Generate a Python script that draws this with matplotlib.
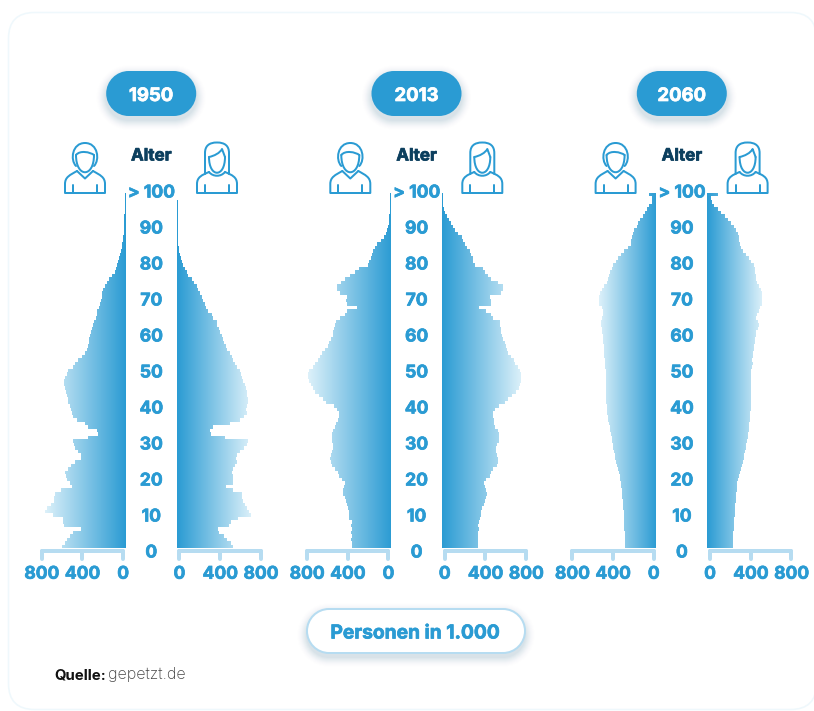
import numpy as np
import matplotlib
matplotlib.use("Agg")
import matplotlib.pyplot as plt
from matplotlib.colors import LinearSegmentedColormap
from matplotlib.markers import MarkerStyle, TICKDOWN
from matplotlib.patches import FancyBboxPatch, PathPatch
from matplotlib.path import Path
from matplotlib.patheffects import withStroke
from matplotlib.transforms import BboxTransformTo

# ---------- data: persons in 1,000 per single age 0..100, measured from the bar baseline ----------
ages = np.arange(101)
years = ["1950", "2013", "2060"]

men_1950 = [629,596,580,547,515,439,606,613,620,711,793,771,738,702,702,695,639,531,547,580,
            590,596,564,538,498,442,442,466,498,508,515,367,269,285,367,400,482,515,531,538,
            547,564,571,580,587,596,603,603,596,580,564,515,498,466,433,400,384,367,360,357,
            351,344,334,324,311,295,285,279,265,252,242,236,229,220,203,180,160,131,105,95,
            88,78,65,56,46,39,33,26,22,19,17,15,14,13,12,11,10,9,8,7,6]
women_1950 = [555,529,496,463,415,408,516,529,604,728,712,692,669,653,646,637,555,480,549,549,
              549,545,555,571,588,581,588,620,660,686,702,473,336,326,359,522,620,660,686,679,
              692,702,702,695,686,676,669,653,637,627,620,594,571,555,539,522,496,483,464,451,
              441,424,411,398,392,359,349,310,287,278,261,245,229,212,196,170,147,114,98,82,
              65,56,42,33,23,20,17,16,15,14,13,12,12,11,11,10,10,9,8,7,6]
men_2013 = [387,387,394,387,394,387,390,387,410,410,413,420,436,443,453,469,476,459,453,485,
            508,518,551,584,594,600,594,584,574,574,577,577,577,574,551,544,525,512,512,535,
            558,640,666,705,748,771,790,804,813,817,804,771,748,715,699,676,649,623,607,590,
            574,567,558,551,541,502,453,436,338,436,443,436,502,528,535,495,453,403,354,312,
            223,213,197,184,174,157,141,102,69,52,43,33,23,20,16,13,12,11,10,9,8]
women_2013 = [356,356,353,356,353,359,353,362,375,385,385,392,408,418,434,444,434,418,415,434,
              467,483,500,539,555,549,539,532,532,539,558,558,558,555,516,509,506,500,500,522,
              558,614,646,689,728,754,767,777,777,780,770,744,721,712,679,653,637,624,614,597,
              588,581,575,571,565,500,477,434,359,483,483,467,581,604,597,549,483,451,418,402,
              320,304,304,287,271,248,222,206,196,157,124,108,85,69,49,26,16,12,10,9,8]
men_2060 = [308,308,310,311,312,313,314,316,318,319,321,324,328,331,335,338,341,345,348,353,
            358,366,380,388,395,402,408,415,421,427,433,439,446,452,459,465,472,477,482,486,
            489,491,492,493,494,495,495,495,495,495,495,505,505,505,512,512,512,518,522,525,
            528,531,535,548,548,531,522,525,535,567,564,561,554,538,515,489,472,463,456,433,
            423,400,374,351,318,276,249,249,239,230,216,194,177,161,128,108,89,69,43,39,72]
women_2060 = [248,250,252,254,256,258,261,263,266,268,271,274,277,280,282,285,288,291,294,297,
              307,320,333,341,349,357,364,371,378,385,392,396,401,405,410,414,418,421,423,426,
              428,428,429,429,430,430,431,431,431,431,431,441,451,444,447,451,454,457,464,464,
              480,483,496,503,496,480,486,503,519,535,542,542,535,529,503,490,480,477,473,464,
              454,431,408,382,349,327,317,307,307,300,284,258,235,202,170,137,104,65,46,33,104]

men_values = [men_1950, men_2013, men_2060]
women_values = [women_1950, women_2013, women_2060]

axis_values = [0, 400, 800]
age_labels = ["0", "10", "20", "30", "40", "50", "60", "70", "80", "90", "> 100"]
age_label_values = [0, 10, 20, 30, 40, 50, 60, 70, 80, 90, 100]
axis_title = "Alter"
unit_label = "Personen in 1.000"
source_bold = "Quelle:"
source_text = "gepetzt.de"

# ---------- style ----------
W, H = 814, 711
BLUE = "#2A9BD3"
PALE = "#DDF1FA"
BRACKET = "#B6DCF1"
DARK = "#0C3F5E"
FONT = "Inter"
PX = 0.72  # points per pixel at dpi=100
cmap = LinearSegmentedColormap.from_list("pyr", [BLUE, PALE])

fig = plt.figure(figsize=(W / 100, H / 100), dpi=100, facecolor="white")
bg = fig.add_axes([0, 0, 1, 1], zorder=0)
bg.set_xlim(0, W)
bg.set_ylim(H, 0)
bg.axis("off")


def heavy(color, px=0.7):
    return [withStroke(linewidth=px * PX, foreground=color)]


def pill_path(x0, y0, x1, y1):
    """Stadium shape with true circular ends."""
    r = (y1 - y0) / 2
    k = 0.5523 * r
    v = [(x0 + r, y0), (x1 - r, y0),
         (x1 - r + k, y0), (x1, y0 + r - k), (x1, y0 + r),
         (x1, y0 + r + k), (x1 - r + k, y1), (x1 - r, y1),
         (x0 + r, y1),
         (x0 + r - k, y1), (x0, y0 + r + k), (x0, y0 + r),
         (x0, y0 + r - k), (x0 + r - k, y0), (x0 + r, y0),
         (x0 + r, y0)]
    c = [Path.MOVETO, Path.LINETO] + [Path.CURVE4] * 6 + [Path.LINETO] + [Path.CURVE4] * 6 + [Path.CLOSEPOLY]
    return Path(v, c)


def pill(x0, y0, x1, y1, fc, ec="none", lw=0, shadow=0.009):
    for k in range(10, 0, -1):
        bg.add_patch(PathPatch(pill_path(x0 - k, y0 - k + 4, x1 + k, y1 + k + 4),
                               fc="#1F5F85", ec="none", alpha=shadow * (11 - k) / 3, zorder=2))
    bg.add_patch(PathPatch(pill_path(x0, y0, x1, y1), fc=fc, ec=ec, lw=lw, zorder=3))


def stroke(verts, codes=None):
    if codes is None:
        codes = [Path.MOVETO] + [Path.LINETO] * (len(verts) - 1)
    bg.add_patch(PathPatch(Path(verts, codes), fc="none", ec=BLUE, lw=2 * PX,
                           capstyle="round", joinstyle="round", zorder=3))


M, L, C = Path.MOVETO, Path.LINETO, Path.CURVE4


def shoulders(cx, neck_w=8, top=171):
    stroke([(cx - neck_w, top), (cx - 15, 175), (cx - 20, 177), (cx - 20, 184), (cx - 20, 193),
            (cx + 20, 193), (cx + 20, 184), (cx + 20, 177), (cx + 15, 175), (cx + neck_w, top)],
           [M, C, C, C, L, L, L, C, C, C])
    stroke([(cx - 12, 193), (cx - 12, 185)])
    stroke([(cx + 12, 193), (cx + 12, 185)])


def male(cx):
    shoulders(cx)
    stroke([(cx - 8, 171), (cx, 178.5), (cx + 8, 171)])
    # hair / head
    stroke([(cx - 9, 166), (cx - 15, 160), (cx - 13, 143), (cx, 143), (cx + 13, 143), (cx + 15, 160), (cx + 9, 166)],
           [M, C, C, C, C, C, C])
    # face
    stroke([(cx - 9, 155), (cx - 9, 178), (cx + 9, 178), (cx + 9, 155)], [M, C, C, C])
    stroke([(cx - 9, 155), (cx - 5, 150), (cx + 5, 152), (cx + 9, 155)], [M, C, C, C])


def female(cx):
    shoulders(cx, top=172)
    stroke([(cx - 8, 172), (cx - 4, 177), (cx + 4, 177), (cx + 8, 172)], [M, C, C, C])
    stroke([(cx - 12, 174), (cx - 12, 153), (cx - 12, 146), (cx - 8, 142.5), (cx, 142.5),
            (cx + 8, 142.5), (cx + 12, 146), (cx + 12, 153), (cx + 12, 174)],
           [M, L, C, C, C, C, C, C, L])
    stroke([(cx - 8, 157), (cx - 8, 178), (cx + 8, 178), (cx + 8, 157)], [M, C, C, C])
    stroke([(cx - 8, 157), (cx - 3, 156), (cx + 3, 153), (cx + 5, 149), (cx + 6, 152), (cx + 7, 154), (cx + 8, 157)],
           [M, C, C, C, C, C, C])


# card outline
bg.add_patch(FancyBboxPatch((8.5, 12.5), 808, 697, boxstyle="round,pad=0,rounding_size=26",
                            fc="white", ec="#EFF8FC", lw=1.6 * PX, zorder=1))

STEP = 265.3
PXU = 0.1018       # pixels per 1,000 persons
PXA = 3.518        # pixels per age row
Y0, TOP, BOTTOM = 548.3, 188.0, 552.0
OFFSET = 26        # the printed zero sits slightly off the bar baseline
SPAN = 840
TICK_PX = 17.5


def side(base_px, values, left):
    px0 = base_px - SPAN * PXU if left else base_px
    ax = fig.add_axes([px0 / W, 1 - BOTTOM / H, SPAN * PXU / W, (BOTTOM - TOP) / H], zorder=4)
    ax.patch.set_alpha(0)
    vals = np.asarray(values, float)
    bars = ax.barh(ages, vals, height=1, align="edge", color=PALE, lw=0, zorder=1)
    clip = Path.make_compound_path(*[Path.unit_rectangle().transformed(BboxTransformTo(b.get_bbox()))
                                     for b in bars])
    grad = np.linspace(0, 1, 256)[None, :]
    im = ax.imshow(grad, cmap=cmap, extent=(0, vals.max(), 0, 101), aspect="auto",
                   interpolation="bilinear", zorder=2)
    im.set_clip_path(clip, ax.transData)
    ax.set_xlim(SPAN, 0) if left else ax.set_xlim(0, SPAN)
    ax.set_ylim(-(BOTTOM - Y0) / PXA, (Y0 - TOP) / PXA)
    for s in ("top", "left", "right"):
        ax.spines[s].set_visible(False)
    sp = ax.spines["bottom"]
    sp.set_position(("outward", -1.5 * PX))
    sp.set_color(BRACKET)
    sp.set_linewidth(4 * PX)
    sp.set_capstyle("round")
    sp.set_bounds(OFFSET, OFFSET + 800)
    sp.set_zorder(0.5)
    ax.set_xticks([v + OFFSET for v in axis_values], [str(v) for v in axis_values])
    ax.tick_params(axis="x", length=8 * PX, width=4 * PX, color=BRACKET, pad=5.2,
                   labelcolor=BLUE, labelsize=TICK_PX * PX)
    for t in ax.xaxis.get_major_ticks():
        t.tick1line.set_marker(MarkerStyle(TICKDOWN, capstyle="round"))
    for t in ax.get_xticklabels():
        t.set_fontfamily(FONT)
        t.set_fontweight("bold")
        t.set_path_effects(heavy(BLUE))
    ax.set_yticks([])
    return ax


for i, year in enumerate(years):
    dx = i * STEP
    left_base, right_base = 125.7 + dx, 176.7 + dx
    side(left_base, men_values[i], True)
    axr = side(right_base, women_values[i], False)
    # age labels live on the women's axis, centred in the gap between both halves
    axr.set_yticks([(Y0 - (551 - 3.6 * a)) / PXA for a in age_label_values], age_labels)
    axr.tick_params(axis="y", length=0, pad=(right_base - (left_base + right_base) / 2) * PX,
                    labelcolor=BLUE, labelsize=TICK_PX * PX)
    for t in axr.get_yticklabels():
        t.set_ha("center")
        t.set_fontfamily(FONT)
        t.set_fontweight("bold")
        t.set_path_effects(heavy(BLUE))
    cx = 151.2 + dx
    pill(cx - 45, 71, cx + 45, 116, BLUE)
    bg.text(cx, 96.5, year, ha="center", va="center", color="white",
            fontsize=18.5 * PX, fontweight="bold", family=FONT, zorder=5,
            path_effects=heavy("white"))
    bg.text(cx, 156, axis_title, ha="center", va="center", color=DARK,
            fontsize=17 * PX, fontweight="bold", family=FONT, zorder=5,
            path_effects=heavy(DARK))
    male(85 + dx)
    female(217 + dx)

pill(307, 609, 525, 653, "white", ec=BRACKET, lw=2 * PX)
bg.text(415, 633.5, unit_label, ha="center", va="center", color=BLUE,
        fontsize=19.2 * PX, fontweight="bold", family=FONT, zorder=5,
        path_effects=heavy(BLUE))
bg.text(54, 675, source_bold, ha="left", va="center", color="#111111",
        fontsize=15 * PX, fontweight="bold", family=FONT, zorder=5)
bg.text(108, 675, source_text, ha="left", va="center", color="#444444",
        fontsize=16 * PX, fontweight="light", family=FONT, zorder=5)

fig.savefig("out.png", dpi=100, facecolor="white")
